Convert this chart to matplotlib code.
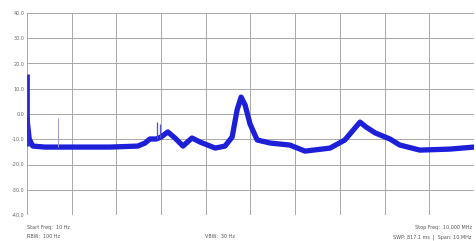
import numpy as np
import matplotlib.pyplot as plt

# frequency (MHz) and level (dB)
freq = [0.0, 0.05, 0.13, 0.40, 0.67, 1.19, 1.86, 2.48, 2.64, 2.75,
        2.89, 3.00, 3.15, 3.31, 3.49, 3.69, 3.87, 4.21, 4.43,
        4.59, 4.70, 4.79, 4.88, 4.99, 5.15, 5.44, 5.88, 6.22, 6.78, 7.11, 7.34,
        7.45, 7.58, 7.79, 8.12, 8.34, 8.79, 9.46, 10.0]
level = [-2.0, -10.0, -12.7, -13.1, -13.1, -13.1, -13.1, -12.7, -11.5, -9.9,
         -9.9, -9.1, -7.1, -9.5, -12.7, -9.5, -11.1, -13.5, -12.7,
         -9.1, 1.6, 6.7, 3.5, -4.0, -10.3, -11.5, -12.3, -14.7, -13.5, -10.3, -5.5,
         -3.2, -5.1, -7.5, -9.9, -12.3, -14.3, -13.9, -13.1]

# narrow spurs on top of the trace
spur_freq = [0.02, 0.69, 2.91, 2.98]
spur_top = [16.0, -1.6, -3.2, -4.0]
spur_base = [-12.7, -13.1, -9.9, -9.5]
spur_color = ['#2b2bd8', '#9a9ad0', '#5050c8', '#5050c8']
spur_width = [2.0, 0.7, 0.9, 0.9]

y_ticks = [40, 30, 20, 10, 0, -10, -20, -30, -40]
y_labels = ["40.0", "30.0", "20.0", "10.0", "0.0", "-10.0", "-20.0", "-30.0", "-40.0"]

fig = plt.figure(figsize=(4.77, 2.41), dpi=100)
ax = fig.add_axes([27 / 477, 26 / 241, 447 / 477, 202 / 241])

ax.plot(freq, level, color='#1c1ee0', lw=3.8, solid_joinstyle='round', solid_capstyle='round')
ax.plot(freq, level, color='#2626a8', lw=0.8, alpha=0.5)
ax.vlines(spur_freq, spur_base, spur_top, colors=spur_color, linewidths=spur_width, clip_on=False)

ax.set_xlim(0, 10)
ax.set_ylim(-40, 40)
ax.set_xticks(np.arange(0, 11, 1))
ax.set_yticks(y_ticks)
ax.set_yticklabels(y_labels, fontsize=3.5, color='#666666')
ax.tick_params(axis='x', labelbottom=False, length=0)
ax.tick_params(axis='y', length=0, pad=2)
ax.grid(True, color='#a8a8a8', lw=0.7)
for s in ax.spines.values():
    s.set_visible(False)
ax.axhline(-40, color='#c8c8c8', lw=0.8, ls=(0, (2, 2)))

fig.text(27 / 477, 1 - 227 / 241, "Start Freq:  10 Hz", fontsize=3.5, color='#555555', va='center')
fig.text(27 / 477, 1 - 237 / 241, "RBW:  100 Hz", fontsize=3.5, color='#555555', va='center')
fig.text(205 / 477, 1 - 237 / 241, "VBW:  30 Hz", fontsize=3.5, color='#555555', va='center')
fig.text(472 / 477, 1 - 227 / 241, "Stop Freq:  10.000 MHz", fontsize=3.5, color='#555555', va='center', ha='right')
fig.text(472 / 477, 1 - 237 / 241, "SWP: 817.1 ms  |  Span: 10 MHz", fontsize=3.5, color='#555555', va='center', ha='right')

fig.savefig('out.png', dpi=100)
